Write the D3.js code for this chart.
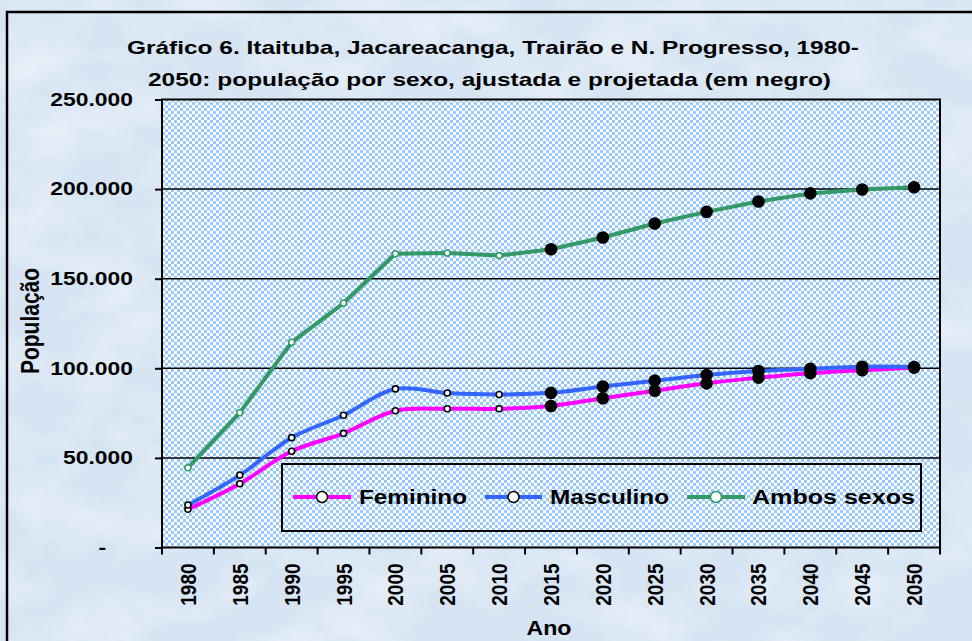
<!DOCTYPE html>
<html lang="pt">
<head>
<meta charset="UTF-8">
<title>Gráfico 6 - População por sexo</title>
<script src="https://cdn.jsdelivr.net/npm/d3@7"></script>
<style>
    body { margin: 0; background: #d9e6f4; }
    text { font-family: Arial, "Liberation Sans", sans-serif; font-weight: bold; fill: #000; }
</style>
</head>
<body>
<div id="chart"></div>
<script>

    // dados
    const anos = ["1980", "1985", "1990", "1995", "2000", "2005", "2010", "2015",
                  "2020", "2025", "2030", "2035", "2040", "2045", "2050"];
    const feminino = [21300, 35600, 53700, 63700, 76300, 77400, 77400, 79000,
                      83300, 87500, 91600, 94800, 97300, 98900, 100400];
    const masculino = [23700, 40400, 61300, 73800, 88500, 86200, 85400, 86300,
                       89800, 93100, 96300, 98500, 99700, 100900, 100700];
    const ambos = [44500, 75200, 114500, 136400, 163900, 164300, 162900, 166400,
                   173000, 180800, 187300, 193100, 197600, 199800, 201000];
    const yTicks = [0, 50000, 100000, 150000, 200000, 250000];
    const primeiroProjetado = "2015";

    // a série total não é suavizada no original
    const series = [
        {nome: "Feminino", valores: feminino, cor: "#ff00ff", borda: "#000", suave: true},
        {nome: "Masculino", valores: masculino, cor: "#3366ff", borda: "#000", suave: true},
        {nome: "Ambos sexos", valores: ambos, cor: "#339966", borda: "#339966", suave: false}
    ];

    const width = 972, height = 641;

    const svg = d3.select("#chart")
        .append("svg")
        .attr("width", width)
        .attr("height", height);

    const defs = svg.append("defs");

    // padrão xadrez do fundo da área de plotagem
    const pat = defs.append("pattern")
        .attr("id", "xadrez")
        .attr("patternUnits", "userSpaceOnUse")
        .attr("width", 6).attr("height", 6);
    pat.append("rect").attr("width", 6).attr("height", 6).attr("fill", "#fff");
    pat.append("rect").attr("width", 3).attr("height", 3).attr("fill", "#99c9fb");
    pat.append("rect").attr("x", 3).attr("y", 3).attr("width", 3).attr("height", 3).attr("fill", "#99c9fb");

    // textura de mármore
    const filt = defs.append("filter").attr("id", "marmore")
        .attr("x", 0).attr("y", 0).attr("width", "100%").attr("height", "100%");
    filt.append("feTurbulence")
        .attr("type", "fractalNoise")
        .attr("baseFrequency", "0.012 0.02")
        .attr("numOctaves", 4)
        .attr("seed", 3);
    filt.append("feColorMatrix")
        .attr("values", "0 0 0 0 1  0 0 0 0 1  0 0 0 0 1  0 0 0 0.9 -0.35");

    svg.append("rect").attr("width", width).attr("height", height).attr("fill", "#d6e4f3");
    svg.append("rect").attr("width", width).attr("height", height).attr("filter", "url(#marmore)");

    // moldura
    svg.append("rect")
        .attr("x", 7).attr("y", 12)
        .attr("width", 1000).attr("height", 700)
        .attr("fill", "none")
        .attr("stroke", "#000")
        .attr("stroke-width", 2.5);

    const x = d3.scaleBand().domain(anos).range([162, 940]);
    const y = d3.scaleLinear().domain([0, 250000]).range([547.5, 99.5]);
    const cx = d => x(d) + x.bandwidth() / 2;

    // estica o texto na horizontal
    function estica(sel, k) {
        sel.each(function () {
            const w = this.getComputedTextLength();
            d3.select(this).attr("textLength", w * k).attr("lengthAdjust", "spacingAndGlyphs");
        });
    }

    // área de plotagem
    svg.append("rect")
        .attr("x", x.range()[0]).attr("y", y(250000))
        .attr("width", x.range()[1] - x.range()[0])
        .attr("height", y(0) - y(250000))
        .attr("fill", "url(#xadrez)");

    svg.append("g")
        .selectAll("line")
        .data(yTicks.filter(d => d > 0 && d < 250000))
        .join("line")
        .attr("x1", x.range()[0]).attr("x2", x.range()[1])
        .attr("y1", d => y(d)).attr("y2", d => y(d))
        .attr("stroke", "#000")
        .attr("stroke-width", 1.5);

    svg.append("rect")
        .attr("x", x.range()[0]).attr("y", y(250000))
        .attr("width", x.range()[1] - x.range()[0])
        .attr("height", y(0) - y(250000))
        .attr("fill", "none")
        .attr("stroke", "#000")
        .attr("stroke-width", 2);

    // eixo y
    const gy = svg.append("g")
        .attr("transform", `translate(${x.range()[0]},0)`)
        .call(d3.axisLeft(y)
            .tickValues(yTicks)
            .tickSize(7)
            .tickPadding(22)
            .tickFormat(d => d === 0 ? "-" : d3.format(",")(d).replace(/,/g, ".")))
        .call(g => g.select(".domain").remove());
    gy.selectAll("line").attr("stroke", "#000").attr("stroke-width", 2);
    gy.selectAll("text")
        .attr("font-size", 18)
        .attr("fill", "#000")
        .attr("font-family", null)
        .call(estica, 1.27)
        .attr("dx", d => d === 0 ? -27 : 0);

    // eixo x
    const gx = svg.append("g")
        .attr("transform", `translate(0,${y(0)})`)
        .call(d3.axisBottom(x).tickSize(0))
        .call(g => g.select(".domain").remove());
    gx.selectAll("text")
        .attr("font-size", 19)
        .attr("font-family", null)
        .attr("fill", "#000")
        .attr("transform", "rotate(-90) scale(1,1.2)")
        .attr("x", -16)
        .attr("y", 0)
        .attr("dy", "0.35em")
        .attr("text-anchor", "end");

    svg.append("g")
        .selectAll("line")
        .data(anos.map(d => x(d)).concat([x.range()[1]]))
        .join("line")
        .attr("x1", d => d).attr("x2", d => d)
        .attr("y1", y(0)).attr("y2", y(0) + 7)
        .attr("stroke", "#000")
        .attr("stroke-width", 2);

    // linhas
    const linha = curva => d3.line()
        .x(d => cx(d.ano))
        .y(d => y(d.v))
        .curve(curva);

    const projetado = ano => +ano >= +primeiroProjetado;

    series.forEach(s => {
        const pts = anos.map((a, i) => ({ano: a, v: s.valores[i]}));
        svg.append("path")
            .datum(pts)
            .attr("d", linha(s.suave ? d3.curveCatmullRom.alpha(0.5) : d3.curveLinear))
            .attr("fill", "none")
            .attr("stroke", s.cor)
            .attr("stroke-width", 4)
            .attr("stroke-linejoin", "round");

        svg.append("g")
            .selectAll("circle")
            .data(pts)
            .join("circle")
            .attr("cx", d => cx(d.ano))
            .attr("cy", d => y(d.v))
            .attr("r", d => projetado(d.ano) ? 6.3 : 3)
            .attr("fill", d => projetado(d.ano) ? "#000" : "#fff")
            .attr("stroke", d => projetado(d.ano) ? "none" : s.borda)
            .attr("stroke-width", 1.6);
    });

    // legenda
    const leg = svg.append("g");
    leg.append("rect")
        .attr("x", 282).attr("y", 464)
        .attr("width", 639).attr("height", 67)
        .attr("fill", "url(#xadrez)")
        .attr("stroke", "#000")
        .attr("stroke-width", 2);

    const legPos = [
        {x1: 293, x2: 351, tx: 359, tw: 108},
        {x1: 485, x2: 542, tx: 550, tw: 119},
        {x1: 687, x2: 745, tx: 752, tw: 163}
    ];
    series.forEach((s, i) => {
        const p = legPos[i];
        leg.append("line")
            .attr("x1", p.x1).attr("x2", p.x2)
            .attr("y1", 497).attr("y2", 497)
            .attr("stroke", s.cor)
            .attr("stroke-width", 4);
        leg.append("circle")
            .attr("cx", (p.x1 + p.x2) / 2).attr("cy", 497)
            .attr("r", 5.5)
            .attr("fill", "#fff")
            .attr("stroke", s.borda)
            .attr("stroke-width", 1.5);
        leg.append("text")
            .attr("x", p.tx).attr("y", 504)
            .attr("font-size", 20)
            .attr("textLength", p.tw)
            .attr("lengthAdjust", "spacingAndGlyphs")
            .text(s.nome);
    });

    // títulos
    svg.append("text")
        .attr("x", 493).attr("y", 54)
        .attr("text-anchor", "middle")
        .attr("font-size", 19)
        .attr("textLength", 732)
        .attr("lengthAdjust", "spacingAndGlyphs")
        .text("Gráfico 6. Itaituba, Jacareacanga, Trairão e N. Progresso, 1980-");
    svg.append("text")
        .attr("x", 489.5).attr("y", 86)
        .attr("text-anchor", "middle")
        .attr("font-size", 19)
        .attr("textLength", 683)
        .attr("lengthAdjust", "spacingAndGlyphs")
        .text("2050: população por sexo, ajustada e projetada (em negro)");

    svg.append("text")
        .attr("transform", "translate(39,321) rotate(-90) scale(1,1.2)")
        .attr("text-anchor", "middle")
        .attr("font-size", 21)
        .text("População");

    svg.append("text")
        .attr("x", 549).attr("y", 635)
        .attr("text-anchor", "middle")
        .attr("font-size", 20)
        .attr("textLength", 45)
        .attr("lengthAdjust", "spacingAndGlyphs")
        .text("Ano");

</script>
</body>
</html>
